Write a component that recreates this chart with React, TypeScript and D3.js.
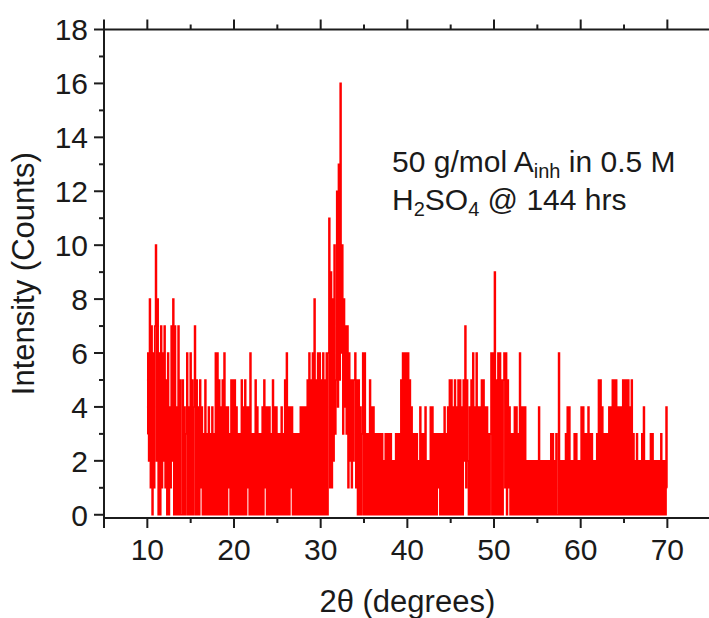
import React from "react";
import * as d3 from "d3";

// ---- data ----
const thetaStart = 10; // first 2θ sample (degrees)
const thetaStep = 0.1; // sampling step (degrees)
const intensity: number[] = [
  3, 6, 2, 8, 1, 7, 0, 6, 1, 7, // 10
  10, 2, 8, 0, 6, 0, 7, 1, 6, 2, // 11
  7, 1, 5, 0, 6, 0, 4, 1, 7, 2, // 12
  8, 0, 7, 0, 4, 0, 7, 0, 5, 0, // 13
  0, 5, 0, 4, 0, 3, 6, 0, 4, 0, // 14
  6, 0, 5, 0, 4, 7, 0, 5, 0, 4, // 15
  0, 5, 1, 4, 0, 3, 0, 5, 0, 3, // 16
  0, 4, 0, 3, 0, 4, 0, 3, 0, 6, // 17
  0, 6, 0, 5, 0, 4, 0, 5, 0, 6, // 18
  0, 4, 0, 4, 1, 3, 0, 5, 0, 5, // 19
  0, 5, 0, 4, 0, 3, 0, 3, 0, 5, // 20
  0, 4, 0, 5, 0, 4, 1, 4, 0, 6, // 21
  0, 3, 0, 3, 0, 5, 0, 4, 0, 3, // 22
  0, 3, 0, 4, 0, 5, 1, 4, 0, 4, // 23
  0, 4, 0, 3, 0, 5, 0, 4, 0, 4, // 24
  0, 3, 0, 3, 0, 4, 0, 3, 0, 5, // 25
  0, 6, 0, 4, 0, 4, 1, 4, 0, 3, // 26
  0, 3, 0, 3, 0, 3, 0, 4, 0, 4, // 27
  0, 4, 0, 4, 0, 5, 0, 6, 0, 5, // 28
  0, 6, 0, 8, 0, 5, 0, 6, 0, 6, // 29
  0, 5, 0, 6, 0, 5, 0, 6, 0, 6, // 30
  11, 1, 9, 1, 8, 2, 10, 3, 5, 12, // 31
  4, 13, 5, 16, 6, 10, 3, 8, 4, 7, // 32
  3, 7, 1, 6, 2, 5, 1, 5, 2, 5, // 33
  6, 1, 5, 0, 5, 0, 4, 0, 3, 6, // 34
  0, 6, 0, 3, 0, 3, 0, 5, 0, 4, // 35
  0, 4, 0, 3, 0, 3, 0, 3, 0, 3, // 36
  0, 3, 0, 2, 0, 3, 0, 3, 0, 3, // 37
  0, 3, 0, 2, 0, 2, 0, 3, 0, 3, // 38
  0, 3, 0, 5, 0, 6, 0, 6, 0, 6, // 39
  0, 6, 0, 5, 0, 4, 0, 3, 0, 3, // 40
  0, 3, 0, 2, 0, 4, 0, 3, 0, 3, // 41
  0, 4, 0, 2, 0, 2, 0, 4, 0, 4, // 42
  0, 3, 0, 3, 0, 3, 1, 3, 0, 3, // 43
  0, 3, 0, 4, 0, 3, 0, 4, 0, 5, // 44
  0, 5, 0, 4, 0, 5, 0, 4, 0, 5, // 45
  0, 5, 0, 4, 0, 5, 2, 7, 1, 5, // 46
  2, 0, 4, 0, 5, 0, 6, 0, 4, 0, // 47
  6, 0, 4, 0, 4, 0, 5, 0, 5, 0, // 48
  4, 0, 4, 0, 3, 0, 3, 6, 0, 6, // 49
  0, 9, 0, 5, 0, 6, 0, 6, 0, 5, // 50
  0, 5, 6, 1, 6, 0, 5, 1, 4, 0, // 51
  3, 0, 3, 0, 4, 0, 4, 0, 3, 0, // 52
  6, 0, 4, 0, 4, 0, 4, 0, 2, 0, // 53
  2, 0, 2, 0, 2, 0, 2, 0, 2, 0, // 54
  2, 0, 4, 0, 2, 0, 2, 0, 2, 0, // 55
  2, 0, 2, 0, 2, 0, 3, 0, 3, 0, // 56
  2, 0, 3, 0, 0, 6, 0, 2, 0, 2, // 57
  0, 2, 0, 3, 0, 4, 0, 4, 0, 2, // 58
  0, 2, 0, 3, 0, 3, 0, 2, 0, 2, // 59
  0, 4, 0, 4, 0, 3, 0, 3, 0, 4, // 60
  0, 3, 0, 3, 0, 2, 0, 2, 0, 3, // 61
  0, 5, 0, 5, 0, 4, 0, 3, 0, 3, // 62
  0, 3, 0, 4, 0, 4, 0, 5, 0, 5, // 63
  0, 5, 0, 4, 0, 4, 0, 4, 0, 5, // 64
  0, 5, 0, 5, 0, 5, 0, 4, 0, 5, // 65
  0, 3, 0, 2, 0, 3, 0, 2, 0, 2, // 66
  0, 3, 0, 4, 0, 2, 0, 2, 0, 2, // 67
  0, 3, 0, 3, 0, 2, 0, 2, 0, 2, // 68
  0, 2, 0, 3, 0, 2, 0, 2, 0, 4, // 69
  1, // 70
];

const xMajorTicks = [10, 20, 30, 40, 50, 60, 70];
const xMinorTicks = [15, 25, 35, 45, 55, 65];
const yMajorTicks = [0, 2, 4, 6, 8, 10, 12, 14, 16, 18];
const yMinorTicks = [1, 3, 5, 7, 9, 11, 13, 15, 17];

const xTitle = "2θ (degrees)";
const yTitle = "Intensity (Counts)";

// ---- layout ----
const W = 709;
const H = 618;
const left = 104;
const right = 710.7;
const top = 29.5;
const bottom = 518;
const FONT = "'Liberation Sans', Arial, Helvetica, sans-serif";
const FS = 30;
const AX = "#1c1c1c";

const x = d3.scaleLinear().domain([5, 75]).range([left, right]);
const y = d3.scaleLinear().domain([-0.12, 18]).range([bottom, top]);

export default function App() {
  const pts: [number, number][] = intensity.map((v, i) => [thetaStart + i * thetaStep, v]);
  const line = d3
    .line<[number, number]>()
    .x((d) => x(d[0]))
    .y((d) => y(d[1]))
    .curve(d3.curveStep);
  const path = line(pts) || "";

  return (
    <svg
      width={W}
      height={H}
      viewBox={`0 0 ${W} ${H}`}
      style={{ position: "absolute", left: 0, top: 0, background: "#fff" }}
      fontFamily={FONT}
    >
      <rect x={0} y={0} width={W} height={H} fill="#ffffff" />
      {/* data */}
      <path d={path} fill="none" stroke="#ff0000" strokeWidth={1.6} strokeLinejoin="miter" />

      {/* axes lines */}
      <g stroke={AX} strokeWidth={2} fill="none">
        <line x1={left} x2={left} y1={top - 1} y2={bottom + 1} />
        <line x1={left - 1} x2={W + 2} y1={bottom} y2={bottom} />
        <line x1={left - 1} x2={W + 2} y1={top} y2={top} />
        {/* left ticks */}
        {yMajorTicks.map((t) => (
          <line key={"ym" + t} x1={left - 10} x2={left} y1={y(t)} y2={y(t)} />
        ))}
        {yMinorTicks.map((t) => (
          <line key={"yn" + t} x1={left - 5} x2={left} y1={y(t)} y2={y(t)} />
        ))}
        {/* bottom ticks */}
        {[5, ...xMajorTicks].map((t) => (
          <line key={"xb" + t} x1={x(t)} x2={x(t)} y1={bottom} y2={bottom + 10} />
        ))}
        {xMinorTicks.map((t) => (
          <line key={"xbn" + t} x1={x(t)} x2={x(t)} y1={bottom} y2={bottom + 5} />
        ))}
        {/* top ticks */}
        {[5, ...xMajorTicks].map((t) => (
          <line key={"xt" + t} x1={x(t)} x2={x(t)} y1={top} y2={top - 10} />
        ))}
        {xMinorTicks.map((t) => (
          <line key={"xtn" + t} x1={x(t)} x2={x(t)} y1={top} y2={top - 5} />
        ))}
      </g>

      {/* tick labels */}
      <g fill="#1a1a1a" fontSize={FS}>
        {yMajorTicks.map((t) => (
          <text key={"yl" + t} x={88} y={y(t) + FS * 0.36} textAnchor="end">
            {t}
          </text>
        ))}
        {xMajorTicks.map((t) => (
          <text key={"xl" + t} x={x(t)} y={560} textAnchor="middle">
            {t}
          </text>
        ))}
      </g>

      {/* axis titles */}
      <text x={(left + right) / 2} y={612} textAnchor="middle" fontSize={31} fill="#1a1a1a">
        {xTitle}
      </text>
      <text
        transform={`translate(34, ${(top + bottom) / 2}) rotate(-90)`}
        textAnchor="middle"
        fontSize={31}
        fill="#1a1a1a"
      >
        {yTitle}
      </text>

      {/* annotation */}
      <g fill="#1a1a1a" fontSize={30}>
        <text x={392} y={172}>
          50 g/mol A
          <tspan fontSize={20} dy={6}>inh</tspan>
          <tspan dy={-6}> in 0.5 M</tspan>
        </text>
        <text x={392} y={210}>
          H<tspan fontSize={20} dy={6}>2</tspan>
          <tspan dy={-6}>SO</tspan>
          <tspan fontSize={20} dy={6}>4</tspan>
          <tspan dy={-6}> @ 144 hrs</tspan>
        </text>
      </g>
    </svg>
  );
}
